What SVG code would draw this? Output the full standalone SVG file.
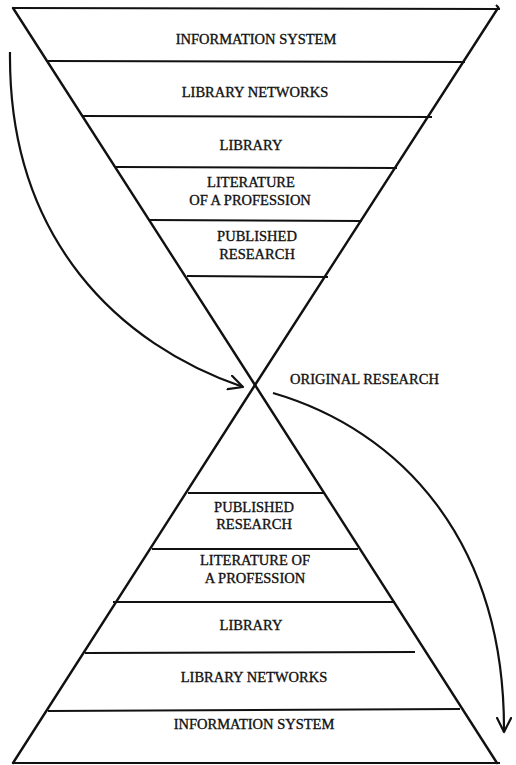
<svg xmlns="http://www.w3.org/2000/svg" width="516" height="765" viewBox="0 0 516 765">
<style>
.edge{stroke:#111;stroke-width:2.4;fill:none;stroke-linecap:round}
.bar{stroke:#111;stroke-width:2;fill:none}
.arc{stroke:#111;stroke-width:2.2;fill:none}
text{font-family:"Liberation Serif","Times New Roman",serif;font-size:14.5px;fill:#111;stroke:#111;stroke-width:0.35;text-anchor:middle}
</style>
<defs>
<marker id="ah" markerUnits="userSpaceOnUse" markerWidth="22" markerHeight="22" refX="15" refY="8" orient="auto">
<path d="M1,1 L15,8 L1,15" fill="none" stroke="#111" stroke-width="2.2" stroke-linecap="round" stroke-linejoin="round"/>
</marker>
</defs>
<rect width="516" height="765" fill="#fff"/>
<g id="hourglass">
<line class="edge" x1="13" y1="8" x2="255" y2="385"/>
<line class="edge" x1="498" y1="8" x2="255" y2="385"/>
<line class="edge" x1="255" y1="385" x2="13" y2="763"/>
<line class="edge" x1="255" y1="385" x2="497" y2="763"/>
<path class="bar" d="M13,8 L500,9 M496,5 L499,8"/>
<line class="bar" x1="13" y1="763" x2="500" y2="763"/>
</g>
<g id="top-information-system"><line class="bar" x1="48" y1="61" x2="465" y2="62"/><text x="256" y="44">INFORMATION SYSTEM</text></g>
<g id="top-library-networks"><line class="bar" x1="82" y1="116" x2="432" y2="117"/><text x="255" y="97">LIBRARY NETWORKS</text></g>
<g id="top-library"><line class="bar" x1="116" y1="167" x2="397" y2="168"/><text x="251" y="150">LIBRARY</text></g>
<g id="top-literature"><line class="bar" x1="149" y1="220" x2="362" y2="221"/><text x="251" y="187">LITERATURE</text><text x="250" y="205">OF A PROFESSION</text></g>
<g id="top-published"><line class="bar" x1="187" y1="276" x2="328" y2="277"/><text x="257" y="241">PUBLISHED</text><text x="257" y="259">RESEARCH</text></g>
<g id="original-research"><text x="290" y="384" style="text-anchor:start">ORIGINAL RESEARCH</text></g>
<g id="bottom-published"><line class="bar" x1="188" y1="493" x2="325" y2="493"/><text x="254" y="512">PUBLISHED</text><text x="254" y="529">RESEARCH</text></g>
<g id="bottom-literature"><line class="bar" x1="152" y1="549" x2="358" y2="549"/><text x="255" y="565">LITERATURE OF</text><text x="255" y="583">A PROFESSION</text></g>
<g id="bottom-library"><line class="bar" x1="113" y1="602" x2="395" y2="602"/><text x="251" y="630">LIBRARY</text></g>
<g id="bottom-library-networks"><line class="bar" x1="85" y1="653" x2="415" y2="652"/><text x="254" y="682">LIBRARY NETWORKS</text></g>
<g id="bottom-information-system"><line class="bar" x1="48" y1="711" x2="460" y2="709"/><text x="254" y="729">INFORMATION SYSTEM</text></g>
<g id="connectors">
<path class="arc" d="M10,52 C8,240 120,345 243,387" marker-end="url(#ah)"/>
<path class="arc" d="M273,393 C400,430 505,540 504,732" marker-end="url(#ah)"/>
</g>
</svg>
